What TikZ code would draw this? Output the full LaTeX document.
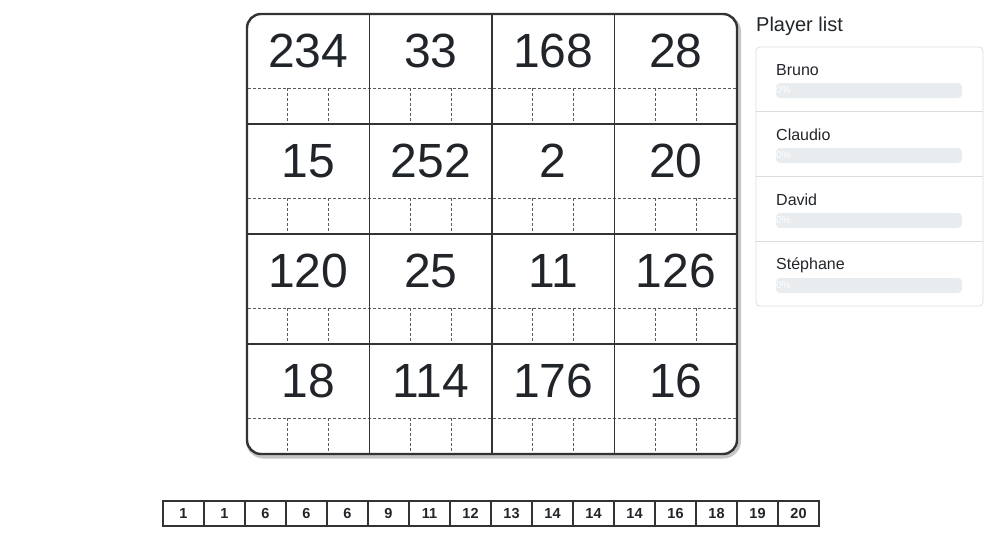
\documentclass[tikz,border=0pt]{standalone}
\usepackage{fontspec}
\setmainfont{Liberation Sans}
\newfontfamily\cntfont{Liberation Sans Bold}
\usepackage{tikz}
\usetikzlibrary{positioning}
\usetikzlibrary{calc}
\definecolor{ink}{HTML}{212529}
\definecolor{rule}{HTML}{333333}
\definecolor{barbg}{HTML}{E9ECEF}
\definecolor{cardline}{HTML}{DDDDDD}

\begin{document}
\begin{tikzpicture}[x=1pt, y=-1pt]
\tikzstyle{num}=[text=ink, inner sep = 0 pt, font=\fontsize{48}{48}\selectfont]
\tikzstyle{major}=[draw=rule, line width=1.6pt]
\tikzstyle{minor}=[draw=rule!80, line width=0.7pt, dash pattern=on 3pt off 2pt]
\tikzstyle{pname}=[anchor=west, inner sep = 0 pt, text=ink, font=\fontsize{16}{16}\selectfont]
\tikzstyle{pct}=[anchor=west, inner sep = 0 pt, text=white, font=\fontsize{10}{10}\selectfont]
\tikzstyle{cnt}=[draw=rule, line width=1.2pt, minimum width=41pt, minimum height=25pt, inner sep = 0 pt, font=\cntfont\fontsize{14.5}{14.5}\selectfont, text=ink]
\useasboundingbox (0,0) rectangle (991,539);
% board shadow and frame
\draw[gray!45, line width=5pt, rounded corners=15pt] (248.5,16.5) rectangle (738.5,456);
\fill[white, rounded corners=14pt] (247,14) rectangle (737,454);
% numbers
\foreach \v [count=\c from 0] in {234,33,168,28,15,252,2,20,120,25,11,126,18,114,176,16}{
\pgfmathtruncatemacro{\col}{mod(\c,4)}
\pgfmathtruncatemacro{\row}{int(\c/4)}
\node[num] (n\c) at (247+122.5*\col+61.25, 14+110*\row+37) {\v};
\foreach \k in {1,2}{
\draw[minor] (247+122.5*\col+40.83*\k, 14+110*\row+74) -- (247+122.5*\col+40.83*\k, 14+110*\row+110);}
}
\foreach \row in {0,1,2,3}{
\draw[minor] (248,14+110*\row+74) -- (736,14+110*\row+74);}
\foreach \row in {1,2,3}{
\draw[major] (247,14+110*\row) -- (737,14+110*\row);}
\foreach \col in {1,2,3}{
\draw[major] (247+122.5*\col,14) -- (247+122.5*\col,454);}
\draw[major, line width=2.4pt, rounded corners=14pt] (247,14) rectangle (737,454);
% player list
\node[anchor=west, inner sep = 0 pt, text=ink, font=\fontsize{20}{20}\selectfont] (title) at (756,26) {Player list};
\draw[cardline, line width=0.8pt, rounded corners=4pt] (756,47) rectangle (983,306);
\foreach \y in {111.5,176.5,241.5}{
\draw[cardline, line width=0.8pt] (756,\y) -- (983,\y);}
\foreach \p/\i in {Bruno/0, Claudio/1, David/2, Stéphane/3}{
\node[pname] (p\i) at (776,70+65*\i) {\p};
\fill[barbg, rounded corners=4pt] (776,83+65*\i) rectangle (962,98+65*\i);
\node[pct] (q\i) at (776,90.5+65*\i) {0\%};}
% drawn numbers
\foreach \v [count=\c from 0] in {1,1,6,6,6,9,11,12,13,14,14,14,16,18,19,20}{
\node[cnt] (b\c) at (183.5+41*\c, 513.5) {\v};}
\end{tikzpicture}
\end{document}
